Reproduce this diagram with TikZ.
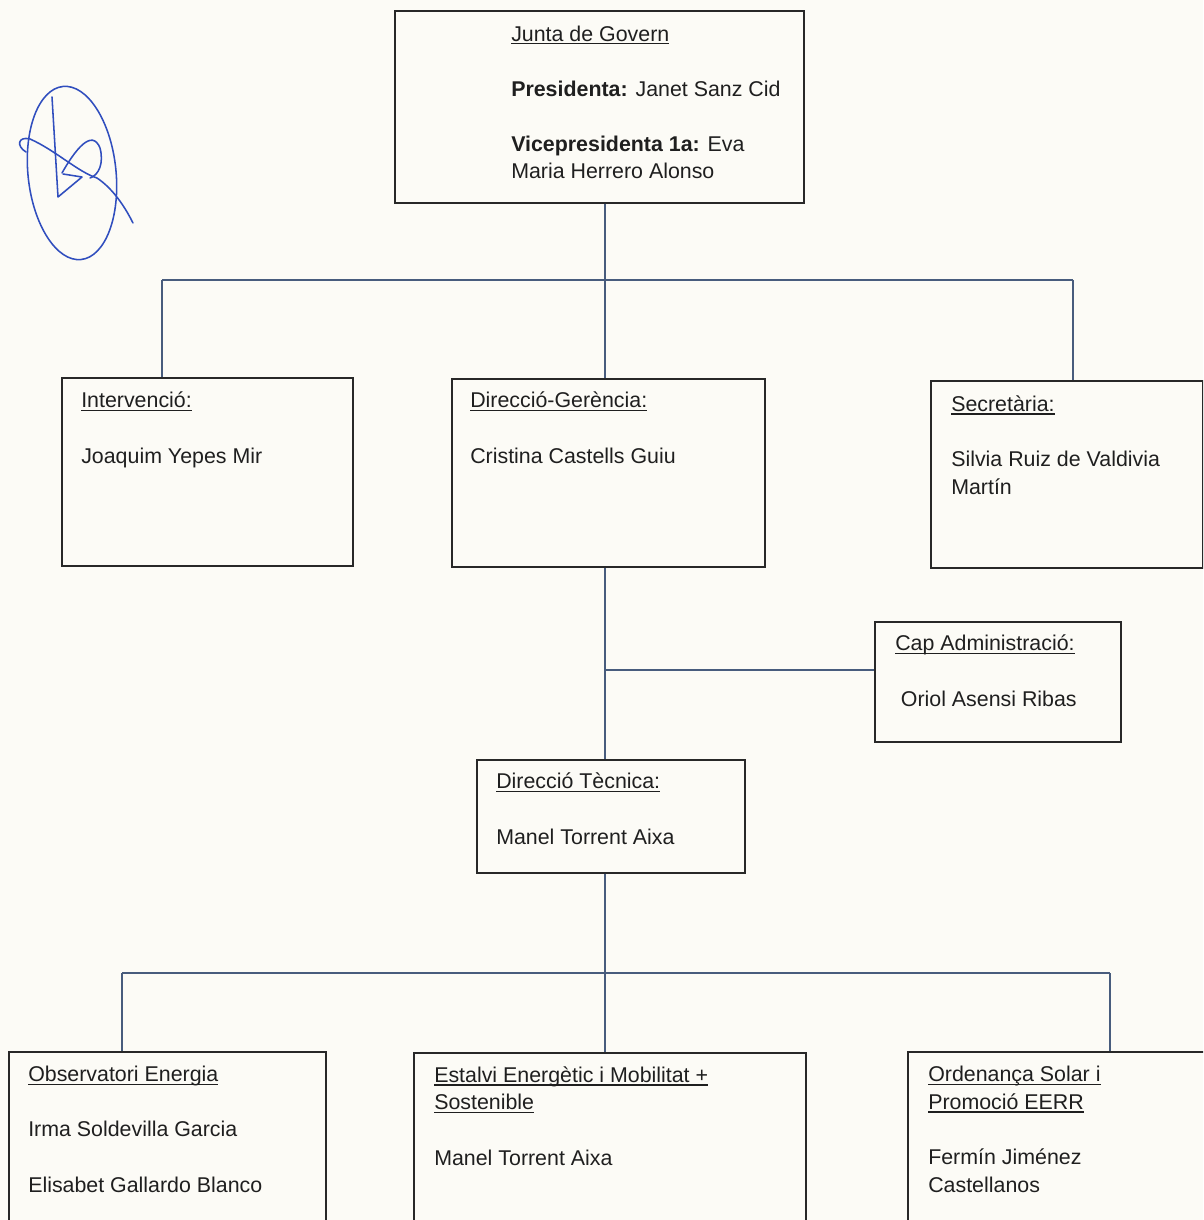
\documentclass[tikz,border=0pt]{standalone}
\usepackage{fontspec}
\setmainfont{Liberation Sans}
\definecolor{paper}{RGB}{252,251,246}
\definecolor{wire}{RGB}{72,92,125}
\definecolor{ink}{RGB}{48,78,190}
\definecolor{edge}{RGB}{40,40,40}
\newdimen\px \px=0.025cm
\newcommand\ulin[1]{\setbox0=\hbox{#1}\rlap{\rule[-2.3pt]{\wd0}{0.8pt}}\box0}
\newcommand\gap{\\[19.6pt]}

\begin{document}
\begin{tikzpicture}[
    x=0.025cm, y=-0.025cm,
    unit/.style 2 args={rectangle, draw=edge, line width=1.1pt, anchor=north west, inner sep=0pt, minimum width=#1\px, minimum height=#2\px},
    txt/.style={anchor=base west, align=left, inner sep=0pt, font=\fontsize{15.2}{19.6}\selectfont, text=black!88},
    wire/.style={draw=wire, line width=0.9pt},
    sig/.style={draw=ink, line width=1.1pt, line cap=round, line join=round}
  ]
    \useasboundingbox[fill=paper] (0,0) rectangle (1203,1220);
    \clip (0,0) rectangle (1203,1220);

    % Signature
    \draw[sig, rotate around={6:(72,173)}] (72,173) ellipse [x radius=44, y radius=87];
    \draw[sig] (52,97) -- (58,197) -- (82,177) -- (63,174);
    \draw[sig] (26,152) .. controls (16,146) and (18,136) .. (30,139)
      .. controls (55,150) and (78,172) .. (97,178)
      .. controls (112,188) and (124,205) .. (133,223);
    \draw[sig] (62,173) .. controls (75,150) and (92,128) .. (100,148)
      .. controls (104,163) and (99,175) .. (90,178);

    % Boxes
    \node[unit={409}{192}] (junta) at (394,10) {};
    \node[unit={291}{188}] (interv) at (61,377) {};
    \node[unit={313}{188}] (gerencia) at (451,378) {};
    \node[unit={272}{187}] (secret) at (930,380) {};
    \node[unit={246}{120}] (capadm) at (874,621) {};
    \node[unit={268}{113}] (dirtec) at (476,759) {};
    \node[unit={317}{200}] (observ) at (8,1051) {};
    \node[unit={392}{200}] (estalvi) at (413,1052) {};
    \node[unit={320}{200}] (ordenanca) at (907,1051) {};

    % Texts (placed at the baseline of their last line)
    \node[txt] (juntatxt) at (511,179) {\ulin{Junta de Govern}\gap\textbf{Presidenta:} Janet Sanz Cid\gap\textbf{Vicepresidenta 1a:} Eva\\Maria Herrero Alonso};
    \node[txt] (intervtxt) at (81,463) {\ulin{Intervenció:}\gap Joaquim Yepes Mir};
    \node[txt] (gerenciatxt) at (470,463) {\ulin{Direcció-Gerència:}\gap Cristina Castells Guiu};
    \node[txt] (secrettxt) at (951,494) {\ulin{Secretària:}\gap Silvia Ruiz de Valdivia\\Martín};
    \node[txt] (capadmtxt) at (895,706) {\ulin{Cap Administració:}\gap\hspace{4pt}Oriol Asensi Ribas};
    \node[txt] (dirtectxt) at (496,844) {\ulin{Direcció Tècnica:}\gap Manel Torrent Aixa};
    \node[txt] (observtxt) at (28,1192) {\ulin{Observatori Energia}\gap Irma Soldevilla Garcia\gap Elisabet Gallardo Blanco};
    \node[txt] (estalvitxt) at (434,1165) {\ulin{Estalvi Energètic i Mobilitat +}\\\ulin{Sostenible}\gap Manel Torrent Aixa};
    \node[txt] (ordenancatxt) at (928,1192) {\ulin{Ordenança Solar i}\\\ulin{Promoció EERR}\gap Fermín Jiménez\\Castellanos};

    % Connectors
    \coordinate (top) at (605,280);
    \coordinate (topl) at (162,280);
    \coordinate (topr) at (1073,280);
    \coordinate (mid) at (605,670);
    \coordinate (low) at (605,973);
    \coordinate (lowl) at (122,973);
    \coordinate (lowr) at (1110,973);
    \draw[wire] (junta.south -| top) -- (gerencia.north -| top);
    \draw[wire] (topl) -- (topr);
    \draw[wire] (topl) -- (topl |- interv.north);
    \draw[wire] (topr) -- (topr |- secret.north);
    \draw[wire] (gerencia.south -| mid) -- (dirtec.north -| mid);
    \draw[wire] (mid) -- (mid -| capadm.west);
    \draw[wire] (dirtec.south -| low) -- (estalvi.north -| low);
    \draw[wire] (lowl) -- (lowr);
    \draw[wire] (lowl) -- (lowl |- observ.north);
    \draw[wire] (lowr) -- (lowr |- ordenanca.north);
\end{tikzpicture}
\end{document}
